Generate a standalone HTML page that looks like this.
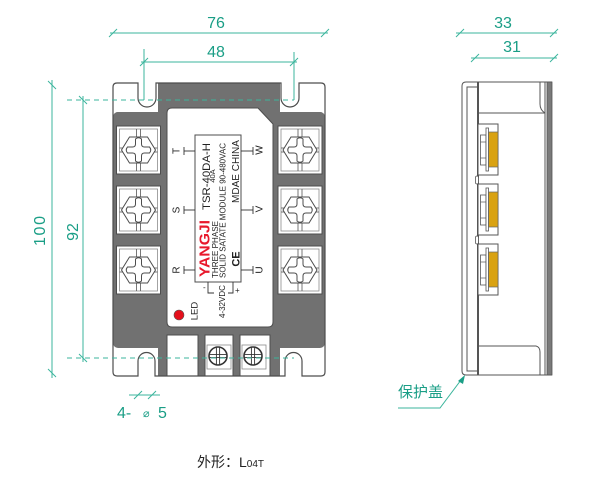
<!DOCTYPE html>
<html><head><meta charset="utf-8">
<style>
html,body{margin:0;padding:0;background:#fff;}
svg{display:block;}
text{font-family:"Liberation Sans","Noto Sans CJK SC",sans-serif;}
</style></head>
<body>
<svg width="600" height="489" viewBox="0 0 600 489" xmlns="http://www.w3.org/2000/svg">
<defs>
  <g id="term">
    <rect x="-22" y="-24" width="44" height="48" fill="#fff" stroke="#4d4d4d" stroke-width="1"/>
    <rect x="-19" y="-21" width="38" height="42" fill="none" stroke="#8c8c8c" stroke-width="0.8"/>
    <g stroke="#555" stroke-width="0.8">
      <line x1="-2" y1="-21" x2="-2" y2="-13"/><line x1="2" y1="-21" x2="2" y2="-13"/>
      <line x1="-2" y1="13" x2="-2" y2="21"/><line x1="2" y1="13" x2="2" y2="21"/>
      <line x1="-19" y1="-2" x2="-15.8" y2="-2"/><line x1="-19" y1="2" x2="-15.8" y2="2"/>
      <line x1="15.8" y1="-2" x2="19" y2="-2"/><line x1="15.8" y1="2" x2="19" y2="2"/>
    </g>
    <polygon points="-17,0 -9,-13 9,-13 17,0 9,13 -9,13" fill="#fff" stroke="#4d4d4d" stroke-width="1"/>
    <path d="M-3,-11 Q0,-13.5 3,-11 L3,-6 Q3,-3 6,-3 L11,-3 Q13.5,0 11,3 L6,3 Q3,3 3,6 L3,11 Q0,13.5 -3,11 L-3,6 Q-3,3 -6,3 L-11,3 Q-13.5,0 -11,-3 L-6,-3 Q-3,-3 -3,-6 Z" fill="#fff" stroke="#4d4d4d" stroke-width="1"/>
  </g>
  <g id="bterm">
    <rect x="-11" y="-11" width="24" height="24" fill="none" stroke="#8c8c8c" stroke-width="0.8"/>
    <circle cx="0" cy="0" r="9" fill="#fff" stroke="#333" stroke-width="1.6"/>
    <g stroke="#333" stroke-width="0.9">
      <line x1="-1.6" y1="-9" x2="-1.6" y2="9"/><line x1="1.6" y1="-9" x2="1.6" y2="9"/>
      <line x1="-9" y1="-1.6" x2="9" y2="-1.6"/><line x1="-9" y1="1.6" x2="9" y2="1.6"/>
    </g>
  </g>
  <g id="sterm">
    <rect x="478" y="0" width="20" height="51" fill="#fff" stroke="#555" stroke-width="1"/>
    <rect x="488.5" y="8" width="9.5" height="35" fill="#d9a212" stroke="#666" stroke-width="0.7"/>
    <rect x="480.5" y="11" width="5.5" height="30" fill="#fff" stroke="#555" stroke-width="0.8"/>
    <line x1="480.5" y1="18" x2="486" y2="18" stroke="#555" stroke-width="0.7"/>
    <line x1="480.5" y1="34" x2="486" y2="34" stroke="#555" stroke-width="0.7"/>
    <rect x="486" y="4" width="2.5" height="43" fill="#fff" stroke="#555" stroke-width="0.8"/>
  </g>
</defs>

<!-- ================= FRONT VIEW ================= -->
<!-- body base -->
<path d="M117 83 L138 83 L138 98 A9 9 0 0 0 156 98 L156 83 L281 83 L281 98 A9 9 0 0 0 299 98 L299 83 L321 83 Q325 83 325 87 L325 372 Q325 376 321 376 L302 376 L302 361 A8.5 8.5 0 0 0 285 361 L285 376 L155 376 L155 361 A8.5 8.5 0 0 0 138 361 L138 376 L117 376 Q113 376 113 372 L113 87 Q113 83 117 83 Z" fill="#fff"/>

<!-- gray regions -->
<g fill="#717171">
  <rect x="158" y="83" width="122" height="36"/>
  <rect x="113" y="112" width="212" height="12" rx="5"/>
  <rect x="113" y="112" width="54" height="236" rx="5"/>
  <rect x="272" y="112" width="53" height="236" rx="5"/>
  <rect x="158" y="300" width="122" height="76"/>
</g>

<!-- label panel -->
<path d="M172 108 L258 108 L273 124 L273 322 Q273 327 268 327 L172 327 Q167 327 167 322 L167 113 Q167 108 172 108 Z" fill="#fff" stroke="#4d4d4d" stroke-width="1"/>

<!-- bottom boxes -->
<rect x="167" y="335" width="31" height="41" fill="#fff" stroke="#4d4d4d" stroke-width="1"/>
<rect x="205" y="335" width="28" height="41" fill="#fff" stroke="#4d4d4d" stroke-width="1"/>
<rect x="240" y="335" width="30" height="41" fill="#fff" stroke="#4d4d4d" stroke-width="1"/>
<use href="#bterm" x="218" y="356"/>
<use href="#bterm" x="253" y="356"/>

<!-- terminals -->
<use href="#term" x="138.5" y="150"/>
<use href="#term" x="138.5" y="210"/>
<use href="#term" x="138.5" y="270"/>
<use href="#term" x="300" y="150"/>
<use href="#term" x="300" y="210"/>
<use href="#term" x="300" y="270"/>

<!-- body outline -->
<path d="M117 83 L138 83 L138 98 A9 9 0 0 0 156 98 L156 83 L281 83 L281 98 A9 9 0 0 0 299 98 L299 83 L321 83 Q325 83 325 87 L325 372 Q325 376 321 376 L302 376 L302 361 A8.5 8.5 0 0 0 285 361 L285 376 L155 376 L155 361 A8.5 8.5 0 0 0 138 361 L138 376 L117 376 Q113 376 113 372 L113 87 Q113 83 117 83 Z" fill="none" stroke="#4d4d4d" stroke-width="1.2"/>

<!-- label box -->
<rect x="195" y="135" width="46" height="147" fill="#fff" stroke="#4d4d4d" stroke-width="1"/>
<text transform="translate(209.4,277) rotate(-90)" font-size="15" font-weight="bold" fill="#e8192c" textLength="57" lengthAdjust="spacingAndGlyphs">YANGJI</text>
<text transform="translate(210,210) rotate(-90)" font-size="11" fill="#222" textLength="67" lengthAdjust="spacingAndGlyphs">TSR-40DA-H</text>
<text transform="translate(215.2,176) rotate(-90)" font-size="7.5" fill="#222" text-anchor="middle">40A</text>
<text transform="translate(217.9,278) rotate(-90)" font-size="8" fill="#222" textLength="57" lengthAdjust="spacingAndGlyphs">THREE PHASE</text>
<text transform="translate(225.4,278) rotate(-90)" font-size="8" fill="#222" textLength="135" lengthAdjust="spacingAndGlyphs">SOLID SATATE MODULE 90-480VAC</text>
<text transform="translate(239,203) rotate(-90)" font-size="10" fill="#222" textLength="63" lengthAdjust="spacingAndGlyphs">MDAE CHINA</text>
<text transform="translate(239.5,259) rotate(-90)" font-size="11" fill="#222" text-anchor="middle" font-weight="bold">CE</text>

<!-- terminal labels -->
<g stroke="#333" stroke-width="0.9">
  <line x1="184" y1="151" x2="195" y2="151"/><line x1="184" y1="147" x2="184" y2="155"/>
  <line x1="184" y1="210" x2="195" y2="210"/><line x1="184" y1="206" x2="184" y2="214"/>
  <line x1="184" y1="270" x2="195" y2="270"/><line x1="184" y1="266" x2="184" y2="274"/>
  <line x1="241" y1="151" x2="253" y2="151"/><line x1="253" y1="147" x2="253" y2="155"/>
  <line x1="241" y1="210" x2="253" y2="210"/><line x1="253" y1="206" x2="253" y2="214"/>
  <line x1="241" y1="270" x2="253" y2="270"/><line x1="253" y1="266" x2="253" y2="274"/>
  <!-- DC bracket -->
  <polyline points="208,282 208,293 214,293" fill="none"/>
  <polyline points="233,282 233,293 228,293" fill="none"/>
</g>
<g font-size="10" fill="#222" text-anchor="middle">
  <text transform="translate(179.6,151) rotate(-90)">T</text>
  <text transform="translate(179.6,210) rotate(-90)">S</text>
  <text transform="translate(179.6,270) rotate(-90)">R</text>
  <text transform="translate(262.6,150) rotate(-90)">W</text>
  <text transform="translate(262.6,209) rotate(-90)">V</text>
  <text transform="translate(262.6,270) rotate(-90)">U</text>
</g>
<text x="203" y="290" font-size="8" fill="#222">-</text>
<text x="235" y="293" font-size="8" fill="#222">+</text>
<text transform="translate(224.9,318) rotate(-90)" font-size="8" fill="#222">4-32VDC</text>
<circle cx="179" cy="315" r="5" fill="#e5101c" stroke="#555" stroke-width="0.6"/>
<text transform="translate(197.4,311) rotate(-90)" font-size="9.5" fill="#222" text-anchor="middle">LED</text>

<!-- ================= DIMENSIONS (front) ================= -->
<g stroke="#3bb59c" stroke-width="1" fill="none">
  <line x1="110" y1="33" x2="328" y2="33"/>
  <line x1="109" y1="37" x2="117" y2="29"/><line x1="321" y1="37" x2="329" y2="29"/>
  <line x1="141" y1="62" x2="297" y2="62"/>
  <line x1="140" y1="66" x2="148" y2="58"/><line x1="290" y1="66" x2="298" y2="58"/>
  <line x1="144" y1="49" x2="144" y2="100"/>
  <line x1="294" y1="52" x2="294" y2="100"/>
  <line x1="52" y1="80" x2="52" y2="378"/>
  <line x1="48" y1="81" x2="56" y2="89"/><line x1="48" y1="369" x2="56" y2="377"/>
  <line x1="83" y1="96" x2="83" y2="362"/>
  <line x1="79" y1="96" x2="87" y2="104"/><line x1="79" y1="354" x2="87" y2="362"/>
  <line x1="67" y1="100" x2="294" y2="100" stroke-dasharray="5,4"/>
  <line x1="67" y1="358" x2="294" y2="358" stroke-dasharray="5,4"/>
  <line x1="129" y1="395" x2="160" y2="395"/>
  <line x1="134" y1="399" x2="142" y2="391"/><line x1="148" y1="399" x2="156" y2="391"/>
</g>
<g fill="#1a9e86" font-size="16">
  <text x="216" y="28" text-anchor="middle">76</text>
  <text x="216" y="57" text-anchor="middle">48</text>
  <text transform="translate(44.8,231) rotate(-90)" text-anchor="middle" textLength="30" lengthAdjust="spacing">100</text>
  <text transform="translate(77.8,232) rotate(-90)" text-anchor="middle">92</text>
  <text x="117" y="418">4-</text>
  <text x="143" y="417" font-size="11" font-family="'DejaVu Sans',sans-serif">⌀</text>
  <text x="158" y="418">5</text>
</g>

<!-- ================= SIDE VIEW ================= -->
<g fill="none" stroke="#555" stroke-width="1">
  <!-- cover -->
  <path d="M478 82 L466 82 Q462 82 462 86 L462 371 Q462 375 466 375 L478 375"/>
  <path d="M478 87 L467 87 L467 371 L478 371"/>
  <!-- top/bottom horizontal lines -->
  <line x1="478" y1="113" x2="545" y2="113"/>
  <path d="M478 346 L536 346 Q540 347 540 352 L540 375"/>
  <path d="M540 82 L540 104 Q540 110 545 113"/>
  <line x1="545" y1="82" x2="545" y2="375"/>
  <line x1="478" y1="82" x2="552" y2="82"/>
  <line x1="478" y1="375" x2="552" y2="375"/>
</g>
<rect x="547" y="82" width="5" height="293" fill="#7a7a7a" stroke="#555" stroke-width="0.8"/>
<line x1="478" y1="82" x2="478" y2="375" stroke="#555" stroke-width="2"/>
<g fill="#fff" stroke="#555" stroke-width="0.8">
  <rect x="475.5" y="176" width="3" height="8" rx="1.5"/>
  <rect x="475.5" y="236" width="3" height="8" rx="1.5"/>
</g>
<use href="#sterm" x="0" y="124"/>
<use href="#sterm" x="0" y="184"/>
<use href="#sterm" x="0" y="244"/>

<!-- side dims -->
<g stroke="#3bb59c" stroke-width="1" fill="none">
  <line x1="456" y1="33" x2="557" y2="33"/>
  <line x1="456" y1="37" x2="464" y2="29"/><line x1="550" y1="37" x2="558" y2="29"/>
  <line x1="471" y1="58" x2="557" y2="58"/>
  <line x1="471" y1="62" x2="479" y2="54"/><line x1="550" y1="62" x2="558" y2="54"/>
  <polyline points="398,408 440,408 461,380"/>
</g>
<polygon points="465,375 458,381 463,384" fill="#1a9e86"/>
<g fill="#1a9e86" font-size="16">
  <text x="503" y="28" text-anchor="middle">33</text>
  <text x="512" y="52" text-anchor="middle">31</text>
</g>
<text x="398" y="397" font-size="15" fill="#1a9e86" font-family="'Noto Sans CJK SC',sans-serif">保护盖</text>

<!-- caption -->
<text x="197" y="467" font-size="14" fill="#222" font-family="'Noto Sans CJK SC',sans-serif">外形：</text>
<text x="239" y="467" font-size="14" fill="#222">L<tspan font-size="10">04T</tspan></text>
</svg>
</body></html>
